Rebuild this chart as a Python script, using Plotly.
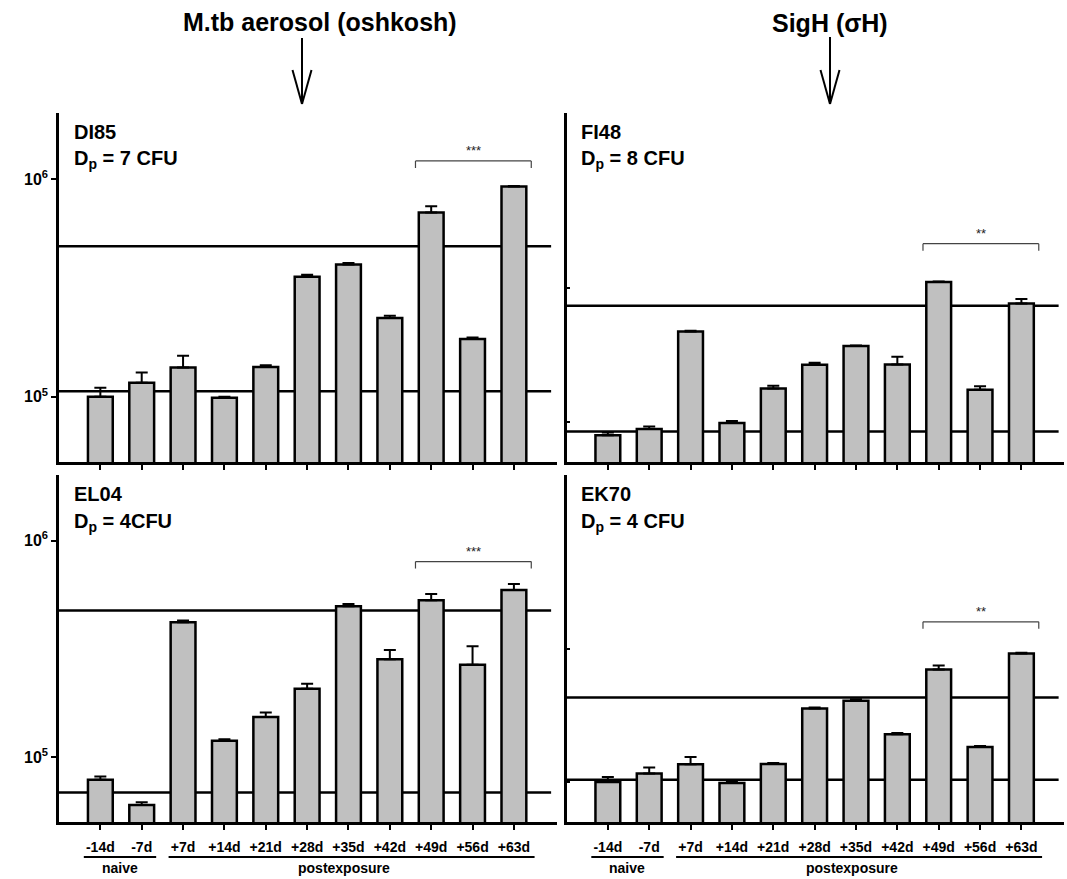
import math
import plotly.graph_objects as go

W, H = 1067, 879

# ---- data -------------------------------------------------------------
days = ["-14d", "-7d", "+7d", "+14d", "+21d", "+28d", "+35d", "+42d", "+49d", "+56d", "+63d"]

di85_cfu = [100000, 116000, 136000, 99000, 137000, 356000, 405000, 230000, 702000, 184000, 923000]
di85_sem = [10000, 13000, 18000, 1000, 2600, 7000, 6000, 5500, 48000, 3000, 6000]
di85_ref = [491000, 106000]

fi48_cfu = [79400, 88100, 471000, 97700, 177000, 266000, 366000, 267000, 1100000, 173000, 759000]
fi48_sem = [3700, 4200, 5000, 3500, 8400, 9300, 4000, 38000, 8000, 11000, 63000]
fi48_ref = [730000, 84700]

el04_cfu = [78500, 60100, 419000, 119000, 153000, 207000, 497000, 283000, 530000, 267000, 592000]
el04_sem = [2800, 1800, 8000, 1700, 7500, 11000, 12700, 29500, 36500, 57600, 38000]
el04_ref = [475000, 68600]

ek70_cfu = [100000, 115500, 135700, 98300, 136500, 354800, 405200, 227800, 695700, 183000, 917300]
ek70_sem = [9000, 12600, 18300, 1700, 2400, 6200, 11700, 5300, 49700, 3200, 10700]
ek70_ref = [429000, 104000]

sig_marks = ["***", "**", "***", "**"]
sig_levels = [1.21e6, 2.12e6, 8.0e5, 1.585e6]

ytick_vals = [1e5, 1e6]
ytick_text = ["10<sup>5</sup>", "10<sup>6</sup>"]

# ---- layout helpers -------------------------------------------------------
FONT = "Liberation Sans, Arial, Helvetica, sans-serif"


def px(x):
    return x / W


def py(y):
    return 1 - y / H


panels = [
    dict(name="DI85", dose="D<sub>p</sub> = 7 CFU", cfu=di85_cfu, sem=di85_sem, ref=di85_ref,
         xdom=(59, 556.5), ydom=(113, 462), yr=[4.7, 6.303], labels=True, bottom=False),
    dict(name="FI48", dose="D<sub>p</sub> = 8 CFU", cfu=fi48_cfu, sem=fi48_sem, ref=fi48_ref,
         xdom=(566.5, 1064), ydom=(113, 462), yr=[4.7, 7.3], labels=False, bottom=False),
    dict(name="EL04", dose="D<sub>p</sub> = 4CFU", cfu=el04_cfu, sem=el04_sem, ref=el04_ref,
         xdom=(59, 556.5), ydom=(475, 822), yr=[4.7, 6.303], labels=True, bottom=True),
    dict(name="EK70", dose="D<sub>p</sub> = 4 CFU", cfu=ek70_cfu, sem=ek70_sem, ref=ek70_ref,
         xdom=(566.5, 1064), ydom=(475, 822), yr=[4.7, 7.3], labels=False, bottom=True),
]

XR = [-1.0, 11.03]
fig = go.Figure()
shapes = []
annotations = []
layout_axes = {}

for i, p in enumerate(panels):
    sfx = "" if i == 0 else str(i + 1)
    xa, ya = "x" + sfx, "y" + sfx
    xs = list(range(len(days)))

    fig.add_trace(go.Bar(
        x=xs, y=p["cfu"], xaxis=xa, yaxis=ya, width=0.6,
        marker=dict(color="#c0c0c0", line=dict(color="black", width=2.5)),
        error_y=dict(type="data", array=p["sem"], arrayminus=[0] * len(xs),
                     symmetric=False, color="black", thickness=2, width=6),
        showlegend=False, hoverinfo="x+y",
    ))

    layout_axes["xaxis" + sfx] = dict(
        domain=[px(p["xdom"][0]), px(p["xdom"][1])], anchor=ya, range=XR,
        tickmode="array", tickvals=xs, ticktext=days, showticklabels=p["bottom"],
        ticks="outside", ticklen=5, tickwidth=2, tickcolor="black",
        showline=True, linewidth=2.5, linecolor="black",
        showgrid=False, zeroline=False, fixedrange=True,
        ticklabelstandoff=5,
        tickfont=dict(family=FONT, size=14, color="black", weight="bold"),
    )
    layout_axes["yaxis" + sfx] = dict(
        domain=[py(p["ydom"][1]), py(p["ydom"][0])], anchor=xa, type="log", range=p["yr"],
        tickmode="array", tickvals=ytick_vals, ticktext=ytick_text,
        showticklabels=p["labels"],
        ticks="outside" if p["labels"] else "inside", ticklen=5 if p["labels"] else 4,
        tickwidth=2, tickcolor="black",
        showline=True, linewidth=2.5, linecolor="black",
        showgrid=False, zeroline=False, fixedrange=True,
        tickfont=dict(family=FONT, size=16, color="black", weight="bold"),
    )

    # reference lines, drawn behind the bars
    for r in p["ref"]:
        shapes.append(dict(type="line", xref=xa, yref=ya, x0=XR[0], x1=10.9, y0=r, y1=r,
                           layer="below", line=dict(color="black", width=2.5)))

    # significance bracket over +49d .. +63d
    lvl = sig_levels[i]
    drop = 10 ** (-(7.0 / 217.7 if p["labels"] else 7.0 / 133.8))
    bx0, bx1 = 7.62, 10.42
    bl = dict(color="#444444", width=1.2)
    shapes.append(dict(type="line", xref=xa, yref=ya, x0=bx0, x1=bx1, y0=lvl, y1=lvl, line=bl))
    shapes.append(dict(type="line", xref=xa, yref=ya, x0=bx0, x1=bx0, y0=lvl, y1=lvl * drop, line=bl))
    shapes.append(dict(type="line", xref=xa, yref=ya, x0=bx1, x1=bx1, y0=lvl, y1=lvl * drop, line=bl))
    annotations.append(dict(xref=xa, yref=ya, x=(bx0 + bx1) / 2, y=math.log10(lvl),
                            text=sig_marks[i], showarrow=False, yanchor="bottom", yshift=1,
                            font=dict(family=FONT, size=13, color="#222222")))

    # animal id and dose
    tx = p["xdom"][0] + 12.5
    ty = p["ydom"][0]
    annotations.append(dict(xref="paper", yref="paper", x=px(tx), y=py(ty + 19), text=p["name"],
                            showarrow=False, xanchor="left", yanchor="middle",
                            font=dict(family=FONT, size=20, color="black", weight="bold")))
    annotations.append(dict(xref="paper", yref="paper", x=px(tx), y=py(ty + 47), text=p["dose"],
                            showarrow=False, xanchor="left", yanchor="middle",
                            font=dict(family=FONT, size=20, color="black", weight="bold")))

    # group brackets under the day labels
    if p["bottom"]:
        for (g0, g1, gl, gx) in [(-0.4, 1.35, "naive", 0.47), (1.65, 10.5, "postexposure", 5.9)]:
            shapes.append(dict(type="line", xref=xa, yref="paper", x0=g0, x1=g1,
                               y0=py(857), y1=py(857), line=dict(color="black", width=2)))
            annotations.append(dict(xref=xa, yref="paper", x=gx, y=py(868), text=gl,
                                    showarrow=False, xanchor="center", yanchor="middle",
                                    font=dict(family=FONT, size=14, color="black", weight="bold")))

# ---- headings and arrows ------------------------------------------------------
annotations.append(dict(xref="paper", yref="paper", x=px(320), y=py(22),
                        text="M.tb aerosol (oshkosh)", showarrow=False,
                        xanchor="center", yanchor="middle",
                        font=dict(family=FONT, size=25, color="black", weight="bold")))
annotations.append(dict(xref="paper", yref="paper", x=px(830), y=py(23),
                        text="SigH (σH)", showarrow=False,
                        xanchor="center", yanchor="middle",
                        font=dict(family=FONT, size=25, color="black", weight="bold")))

for ax_x, top in [(302, 38), (830, 37)]:
    tip = 104
    al = dict(color="black", width=2)
    shapes.append(dict(type="line", xref="paper", yref="paper",
                       x0=px(ax_x), x1=px(ax_x), y0=py(top), y1=py(tip), line=al))
    shapes.append(dict(type="line", xref="paper", yref="paper",
                       x0=px(ax_x - 9.5), x1=px(ax_x), y0=py(70), y1=py(tip), line=al))
    shapes.append(dict(type="line", xref="paper", yref="paper",
                       x0=px(ax_x + 9.5), x1=px(ax_x), y0=py(70), y1=py(tip), line=al))

fig.update_layout(
    width=W, height=H, autosize=False,
    margin=dict(l=0, r=0, t=0, b=0, pad=0),
    paper_bgcolor="white", plot_bgcolor="white",
    font=dict(family=FONT, color="black"),
    bargap=0.4, shapes=shapes, annotations=annotations,
    **layout_axes,
)

fig.write_html("out.html")
